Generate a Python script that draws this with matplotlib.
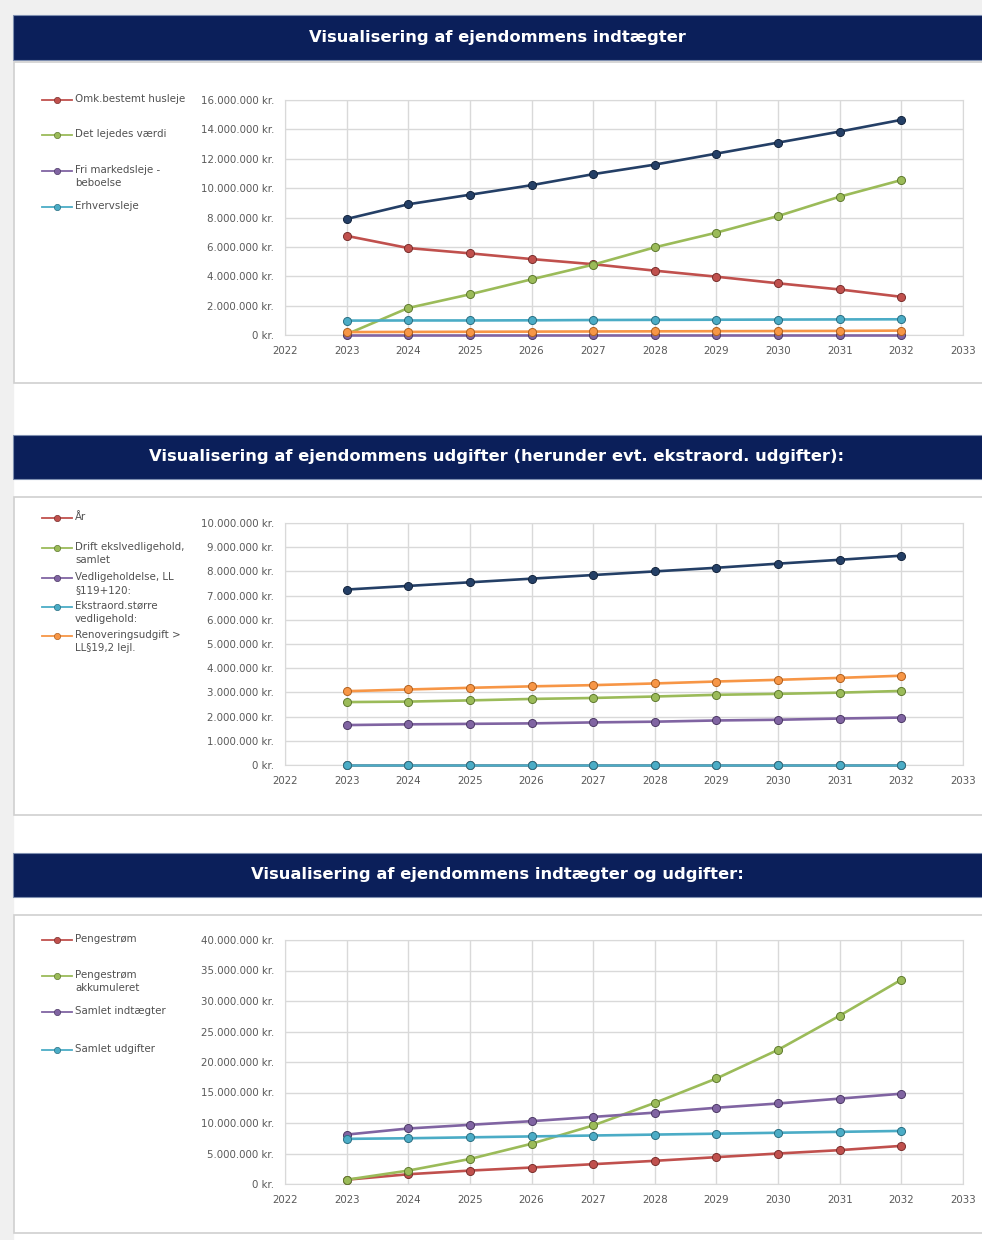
import matplotlib.pyplot as plt
from matplotlib.patches import Rectangle
from matplotlib.lines import Line2D
from matplotlib.ticker import FuncFormatter, MultipleLocator

# ---- data (values in kr.) ----
years = [2023, 2024, 2025, 2026, 2027, 2028, 2029, 2030, 2031, 2032]

# chart 1: indtaegter
ind_samlet = [7.9e6, 8.9e6, 9.55e6, 10.2e6, 10.95e6, 11.6e6, 12.35e6, 13.1e6, 13.85e6, 14.65e6]
ind_omk = [6.75e6, 5.92e6, 5.56e6, 5.17e6, 4.82e6, 4.38e6, 3.97e6, 3.52e6, 3.1e6, 2.6e6]
ind_lejedes = [0.05e6, 1.84e6, 2.77e6, 3.79e6, 4.79e6, 5.97e6, 6.97e6, 8.1e6, 9.42e6, 10.55e6]
ind_fri = [0.03e6, 0.03e6, 0.03e6, 0.03e6, 0.03e6, 0.03e6, 0.03e6, 0.03e6, 0.03e6, 0.03e6]
ind_erhverv = [0.98e6, 0.99e6, 0.99e6, 1.0e6, 1.02e6, 1.03e6, 1.04e6, 1.05e6, 1.06e6, 1.07e6]
ind_other = [0.2e6, 0.21e6, 0.22e6, 0.23e6, 0.24e6, 0.25e6, 0.26e6, 0.27e6, 0.28e6, 0.3e6]

# chart 2: udgifter
udg_samlet = [7.25e6, 7.4e6, 7.55e6, 7.7e6, 7.85e6, 8.0e6, 8.15e6, 8.32e6, 8.48e6, 8.65e6]
udg_aar = years
udg_drift = [2.6e6, 2.62e6, 2.67e6, 2.73e6, 2.77e6, 2.83e6, 2.9e6, 2.94e6, 2.99e6, 3.06e6]
udg_vedl = [1.65e6, 1.68e6, 1.7e6, 1.72e6, 1.76e6, 1.79e6, 1.84e6, 1.87e6, 1.92e6, 1.96e6]
udg_ekstra = [0, 0, 0, 0, 0, 0, 0, 0, 0, 0]
udg_renov = [3.05e6, 3.12e6, 3.19e6, 3.25e6, 3.3e6, 3.37e6, 3.45e6, 3.52e6, 3.6e6, 3.69e6]

# chart 3: indtaegter og udgifter
pengestrom = [0.7e6, 1.6e6, 2.2e6, 2.7e6, 3.25e6, 3.8e6, 4.4e6, 5.0e6, 5.55e6, 6.25e6]
pengestrom_akk = [0.7e6, 2.2e6, 4.1e6, 6.6e6, 9.6e6, 13.3e6, 17.3e6, 22.0e6, 27.6e6, 33.5e6]
samlet_ind = [8.1e6, 9.1e6, 9.7e6, 10.3e6, 11.0e6, 11.7e6, 12.5e6, 13.2e6, 14.0e6, 14.8e6]
samlet_udg = [7.4e6, 7.5e6, 7.65e6, 7.8e6, 7.95e6, 8.1e6, 8.25e6, 8.4e6, 8.55e6, 8.7e6]

titles = ["Visualisering af ejendommens indtægter",
          "Visualisering af ejendommens udgifter (herunder evt. ekstraord. udgifter):",
          "Visualisering af ejendommens indtægter og udgifter:"]

NAVY = "#243f66"
RED = "#c0504d"
GREEN = "#9bbb59"
PURPLE = "#8064a2"
CYAN = "#4bacc6"
ORANGE = "#f79646"
BAND = "#0b1f5a"
EDGE = {NAVY: "#13243d", RED: "#7a2f2d", GREEN: "#5f7a2f", PURPLE: "#4d3a66",
        CYAN: "#2a6f82", ORANGE: "#b0601f"}

W, H = 982, 1240
fig = plt.figure(figsize=(W / 100, H / 100), dpi=100)
fig.patch.set_facecolor("white")


def fx(x):
    return x / W


def fy(y):
    return 1 - y / H


# page background strips
fig.add_artist(Rectangle((0, 0), fx(13), 1, transform=fig.transFigure, color="#f0f0f0", zorder=-3))
fig.add_artist(Rectangle((0, fy(15)), 1, 15 / H, transform=fig.transFigure, color="#f0f0f0", zorder=-3))

bands = [(15, 60), (435, 479), (853, 897)]
boxes = [(62, 383), (497, 815), (915, 1233)]
for (t, b), title in zip(bands, titles):
    fig.add_artist(Rectangle((fx(13), fy(b)), 1, (b - t) / H, transform=fig.transFigure,
                             facecolor=BAND, edgecolor="#7f8fb0", lw=0.8, zorder=-2))
    fig.text(0.5 + fx(6), fy((t + b) / 2), title, color="white", fontsize=11.8,
             fontweight="bold", ha="center", va="center", zorder=2)
for t, b in boxes:
    fig.add_artist(Rectangle((fx(14), fy(b)), 1, (b - t) / H, transform=fig.transFigure,
                             facecolor="white", edgecolor="#d0d0d0", lw=1.2, zorder=-2))


def kr(v, pos):
    if v == 0:
        return "0 kr."
    return f"{int(round(v)):,}".replace(",", ".") + " kr."


def setup(ax, top, step):
    ax.set_xlim(2022, 2033)
    ax.set_ylim(0, top)
    ax.xaxis.set_major_locator(MultipleLocator(1))
    ax.yaxis.set_major_locator(MultipleLocator(step))
    ax.yaxis.set_major_formatter(FuncFormatter(kr))
    ax.grid(True, color="#d9d9d9", lw=1.0)
    ax.set_axisbelow(True)
    for s in ax.spines.values():
        s.set_color("#d9d9d9")
    ax.tick_params(length=0, labelsize=7.4, colors="#595959", pad=8)
    ax.set_facecolor("white")


def series(ax, y, color):
    ax.plot(years, y, color=color, lw=1.9, marker="o", ms=5.8,
            markerfacecolor=color, markeredgecolor=EDGE[color], markeredgewidth=0.7,
            clip_on=False, zorder=3)


def legend(entries, ys):
    for (label, color), y in zip(entries, ys):
        fig.add_artist(Line2D([fx(42), fx(72)], [fy(y), fy(y)], transform=fig.transFigure,
                              color=color, lw=1.3, zorder=3))
        fig.add_artist(Line2D([fx(57)], [fy(y)], transform=fig.transFigure, color=color,
                              marker="o", ms=4.5, markeredgecolor=EDGE[color],
                              markeredgewidth=0.5, zorder=4))
        fig.text(fx(75), fy(y - 6), label, fontsize=7.4, color="#505050",
                 va="top", ha="left", linespacing=1.35, zorder=4)


# chart 1
ax1 = fig.add_axes([fx(285), fy(335), fx(678), 235 / H])
setup(ax1, 16e6, 2e6)
series(ax1, ind_samlet, NAVY)
series(ax1, ind_omk, RED)
series(ax1, ind_lejedes, GREEN)
series(ax1, ind_fri, PURPLE)
series(ax1, ind_erhverv, CYAN)
series(ax1, ind_other, ORANGE)
legend([("Omk.bestemt husleje", RED), ("Det lejedes værdi", GREEN),
        ("Fri markedsleje -\nbeboelse", PURPLE), ("Erhvervsleje", CYAN)],
       [100, 135, 171, 207])

# chart 2
ax2 = fig.add_axes([fx(285), fy(765), fx(678), 242 / H])
setup(ax2, 10e6, 1e6)
series(ax2, udg_samlet, NAVY)
series(ax2, udg_aar, RED)
series(ax2, udg_drift, GREEN)
series(ax2, udg_vedl, PURPLE)
series(ax2, udg_ekstra, CYAN)
series(ax2, udg_renov, ORANGE)
legend([("År", RED), ("Drift ekslvedligehold,\nsamlet", GREEN),
        ("Vedligeholdelse, LL\n§119+120:", PURPLE), ("Ekstraord.større\nvedligehold:", CYAN),
        ("Renoveringsudgift >\nLL§19,2 lejl.", ORANGE)],
       [518, 548, 578, 607, 636])

# chart 3
ax3 = fig.add_axes([fx(285), fy(1184), fx(678), 244 / H])
setup(ax3, 40e6, 5e6)
series(ax3, pengestrom, RED)
series(ax3, pengestrom_akk, GREEN)
series(ax3, samlet_ind, PURPLE)
series(ax3, samlet_udg, CYAN)
legend([("Pengestrøm", RED), ("Pengestrøm\nakkumuleret", GREEN),
        ("Samlet indtægter", PURPLE), ("Samlet udgifter", CYAN)],
       [940, 976, 1012, 1050])

fig.savefig("out.png", dpi=100)
